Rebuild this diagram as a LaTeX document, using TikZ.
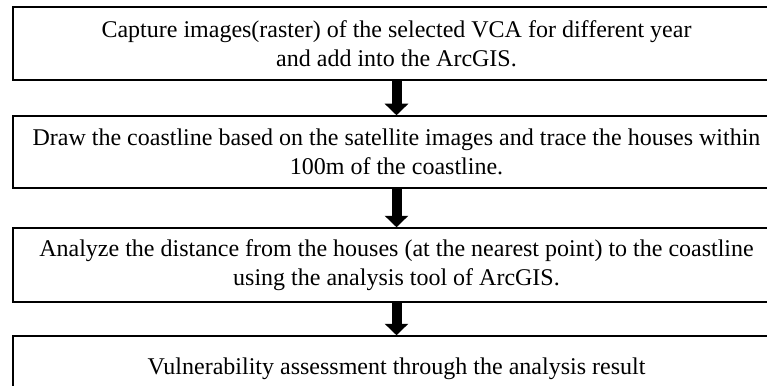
\documentclass[tikz,border=0pt]{standalone}
\usepackage{fontspec}
\setmainfont{Liberation Serif}
\usetikzlibrary{arrows.meta}
\begin{document}
\begin{tikzpicture}[x=1pt,y=-1pt,
  stepbox/.style={draw=black, line width=1.5pt, fill=white, minimum width=767pt,
    inner sep=0pt, align=center, font=\fontsize{24}{29}\selectfont},
  flow/.style={line width=10pt, -{Triangle[width=23pt,length=11.5pt]}}]
\useasboundingbox (0,0) rectangle (767,385);
\clip (0,0) rectangle (767,385);
\fill[white] (0,0) rectangle (767,385);
\node[stepbox, minimum height=73pt] (b1) at (396.5,43.5)
  {Capture images(raster) of the selected VCA for different year\\and add into the ArcGIS.};
\node[stepbox, minimum height=72pt] (b2) at (396.5,152)
  {Draw the coastline based on the satellite images and trace the houses within\\100m of the coastline.};
\node[stepbox, minimum height=74pt] (b3) at (396.5,265)
  {Analyze the distance from the houses (at the nearest point) to the coastline\\using the analysis tool of ArcGIS.};
\node[stepbox, minimum height=66pt] (b4) at (396.5,369)
  {Vulnerability assessment through the analysis result};
\draw[flow] (b1.south) -- (b2.north);
\draw[flow] (b2.south) -- (b3.north);
\draw[flow] (b3.south) -- (b4.north);
\end{tikzpicture}
\end{document}
